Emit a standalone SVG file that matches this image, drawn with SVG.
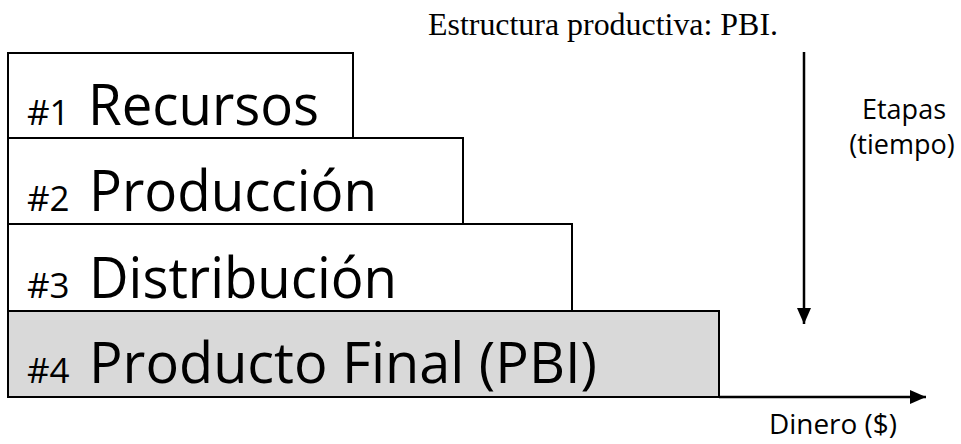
<svg xmlns="http://www.w3.org/2000/svg" width="961" height="444" viewBox="0 0 961 444">
<defs>
<style>
.box{stroke:#000;stroke-width:2;fill:#fff}
.final{fill:#d9d9d9}
.num{font-family:"Open Sans","Liberation Sans",sans-serif;font-size:35px;fill:#000}
.big{font-family:"Open Sans","Liberation Sans",sans-serif;font-size:56px;fill:#000}
.lbl{font-family:"Open Sans","Liberation Sans",sans-serif;font-size:27px;fill:#000}
.title{font-family:"Liberation Serif","Times New Roman",serif;font-size:31px;fill:#000}
.ax{stroke:#000;stroke-width:2.5;fill:none}
</style>
<marker id="ah" viewBox="0 0 16 14" refX="16" refY="7" markerWidth="16" markerHeight="14" markerUnits="userSpaceOnUse" orient="auto">
<path d="M0,0 L16,7 L0,14 Z" fill="#000"/>
</marker>
</defs>
<rect width="961" height="444" fill="#fff"/>
<text class="title" x="428" y="35" textLength="350" lengthAdjust="spacingAndGlyphs">Estructura productiva: PBI.</text>
<g id="n1">
<rect class="box" x="8" y="53" width="345" height="85"/>
<text x="27" y="125"><tspan class="num">#1</tspan><tspan class="big" x="88" textLength="231" lengthAdjust="spacingAndGlyphs">Recursos</tspan></text>
</g>
<g id="n2">
<rect class="box" x="8" y="138" width="455" height="86"/>
<text x="27" y="211"><tspan class="num">#2</tspan><tspan class="big" x="89" textLength="288" lengthAdjust="spacingAndGlyphs">Producción</tspan></text>
</g>
<g id="n3">
<rect class="box" x="8" y="224" width="564" height="87"/>
<text x="27" y="298"><tspan class="num">#3</tspan><tspan class="big" x="89" textLength="308" lengthAdjust="spacingAndGlyphs">Distribución</tspan></text>
</g>
<g id="n4">
<rect class="box final" x="8" y="311" width="711" height="86"/>
<text x="27" y="383"><tspan class="num">#4</tspan><tspan class="big" x="89" textLength="508" lengthAdjust="spacingAndGlyphs">Producto Final (PBI)</tspan></text>
</g>
<g id="connectors">
<line class="ax" x1="804" y1="52" x2="804" y2="324" marker-end="url(#ah)"/>
<line class="ax" x1="719" y1="397" x2="926" y2="397" marker-end="url(#ah)"/>
</g>
<text class="lbl" x="904" y="119" text-anchor="middle">Etapas</text>
<text class="lbl" x="902" y="154" text-anchor="middle">(tiempo)</text>
<text class="lbl" x="769" y="434" textLength="128" lengthAdjust="spacingAndGlyphs">Dinero ($)</text>
</svg>
